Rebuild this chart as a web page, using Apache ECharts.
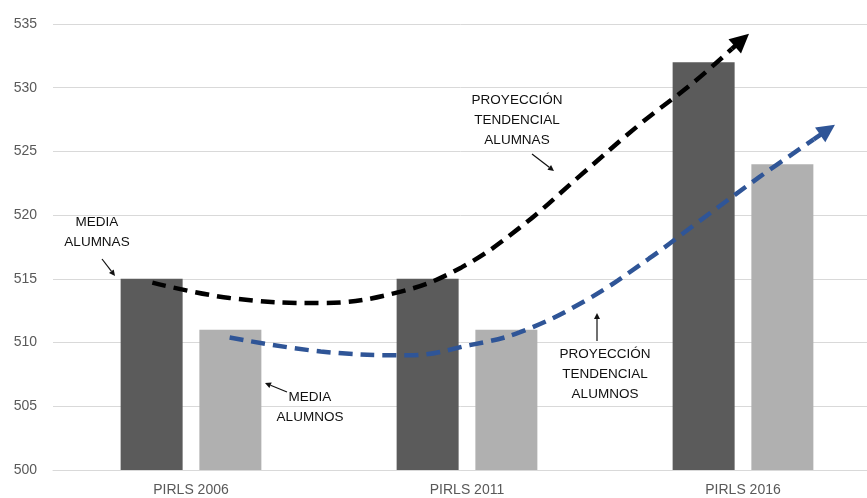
<!DOCTYPE html>
<html>
<head>
<meta charset="utf-8">
<script src="https://cdn.jsdelivr.net/npm/echarts@6/dist/echarts.min.js"></script>
<style>html,body{margin:0;padding:0;background:#fff;}#c{width:867px;height:498px;}</style>
</head>
<body>
<div id="c"></div>
<script>
const categories = ['PIRLS 2006', 'PIRLS 2011', 'PIRLS 2016'];
const mediaAlumnas = [515, 515, 532];
const mediaAlumnos = [511, 511, 524];
const yMin = 500, yMax = 535, yStep = 5;
// trend curves (x: category position, 0..3 ; y: score)
const trendAlumnasX = [0.36, 0.64, 0.97, 1.26, 1.48, 1.69, 1.91, 2.13, 2.32, 2.52];
const trendAlumnasY = [514.7, 513.5, 513.1, 514.0, 515.9, 519.0, 523.1, 527.2, 530.4, 534.2];
const trendAlumnosX = [0.64, 0.97, 1.29, 1.51, 1.69, 1.93, 2.16, 2.34, 2.56, 2.84];
const trendAlumnosY = [510.4, 509.3, 509.0, 509.8, 510.8, 513.3, 516.6, 519.5, 523.0, 527.2];
const labelsText = {
  alumnas: 'MEDIA\nALUMNAS',
  alumnos: 'MEDIA\nALUMNOS',
  projAlumnas: 'PROYECCIÓN\nTENDENCIAL\nALUMNAS',
  projAlumnos: 'PROYECCIÓN\nTENDENCIAL\nALUMNOS'
};

function pairs(xs, ys) { return xs.map((x, i) => [x, ys[i]]); }
// short segment ending a bit before the tip so the centred arrowhead ends at the tip
function arrowSeg(xs, ys) {
  const n = xs.length;
  const dx = xs[n - 1] - xs[n - 2], dy = ys[n - 1] - ys[n - 2];
  const ex = xs[n - 1] - dx * 0.12, ey = ys[n - 1] - dy * 0.12;
  const sx = xs[n - 1] - dx * 0.3, sy = ys[n - 1] - dy * 0.3;
  return [{ coords: [[sx, sy], [ex, ey]] }];
}

const FONT = '"Liberation Sans", Arial, sans-serif';
const chart = echarts.init(document.getElementById('c'), null, { renderer: 'canvas' });

function smallArrow(x1, y1, x2, y2) {
  const ang = Math.atan2(y2 - y1, x2 - x1);
  const L = 6, W = 3;
  const bx = x2 - L * Math.cos(ang), by = y2 - L * Math.sin(ang);
  const px = -Math.sin(ang) * W, py = Math.cos(ang) * W;
  return [
    { type: 'line', shape: { x1: x1, y1: y1, x2: bx, y2: by }, style: { stroke: '#111', lineWidth: 1.2 }, z: 100 },
    { type: 'polygon', shape: { points: [[x2, y2], [bx + px, by + py], [bx - px, by - py]] }, style: { fill: '#111' }, z: 100 }
  ];
}
function txt(x, y, t) {
  return { type: 'text', x: x, y: y, z: 100,
    style: { text: t, fill: '#111', font: '13.5px ' + FONT, align: 'center', verticalAlign: 'top', lineHeight: 20 } };
}

const graphics = [].concat(
  [txt(97, 212, labelsText.alumnas)],
  smallArrow(102, 259, 115, 276),
  [txt(310, 387, labelsText.alumnos)],
  smallArrow(287, 392, 265, 383),
  [txt(517, 90, labelsText.projAlumnas)],
  smallArrow(532, 154, 554, 171),
  [txt(605, 344, labelsText.projAlumnos)],
  smallArrow(597, 341, 597, 313)
);

chart.setOption({
  animation: false,
  backgroundColor: '#fff',
  grid: { left: 53, top: 24, width: 828, height: 446, outerBoundsMode: 'none', containLabel: false },
  xAxis: [
    { type: 'category', data: categories, boundaryGap: true,
      axisLine: { show: true, lineStyle: { color: '#d9d9d9', width: 1 } },
      axisTick: { show: false },
      axisLabel: { color: '#595959', fontFamily: FONT, fontSize: 14, margin: 13 } },
    { type: 'value', min: 0, max: 3, show: false }
  ],
  yAxis: {
    type: 'value', min: yMin, max: yMax, interval: yStep,
    axisLine: { show: false }, axisTick: { show: false },
    axisLabel: { color: '#595959', fontFamily: FONT, fontSize: 14, margin: 16 },
    splitLine: { lineStyle: { color: '#d9d9d9', width: 1 } }
  },
  series: [
    { name: 'Media alumnas', type: 'bar', data: mediaAlumnas, barWidth: 62, barGap: '27%',
      itemStyle: { color: '#5b5b5b' } },
    { name: 'Media alumnos', type: 'bar', data: mediaAlumnos, barWidth: 62,
      itemStyle: { color: '#b0b0b0' } },
    { name: 'Tendencia alumnas', type: 'line', xAxisIndex: 1,
      data: pairs(trendAlumnasX.slice(0, -1), trendAlumnasY.slice(0, -1)).concat([arrowSeg(trendAlumnasX, trendAlumnasY)[0].coords[0]]),
      smooth: 0.4, showSymbol: false, z: 10,
      lineStyle: { color: '#000', width: 4.5, type: [14, 8] } },
    { name: 'Tendencia alumnos', type: 'line', xAxisIndex: 1,
      data: pairs(trendAlumnosX.slice(0, -1), trendAlumnosY.slice(0, -1)).concat([arrowSeg(trendAlumnosX, trendAlumnosY)[0].coords[0]]),
      smooth: 0.4, showSymbol: false, z: 10,
      lineStyle: { color: '#2f5597', width: 4.5, type: [14, 8] } },
    { type: 'lines', coordinateSystem: 'cartesian2d', xAxisIndex: 1, z: 11,
      symbol: ['none', 'triangle'], symbolSize: [20, 19],
      lineStyle: { color: '#000', width: 4.5, opacity: 1 },
      data: arrowSeg(trendAlumnasX, trendAlumnasY) },
    { type: 'lines', coordinateSystem: 'cartesian2d', xAxisIndex: 1, z: 11,
      symbol: ['none', 'triangle'], symbolSize: [19, 18],
      lineStyle: { color: '#2f5597', width: 4.5, opacity: 1 },
      data: arrowSeg(trendAlumnosX, trendAlumnosY) }
  ],
  graphic: graphics
});
</script>
</body>
</html>
